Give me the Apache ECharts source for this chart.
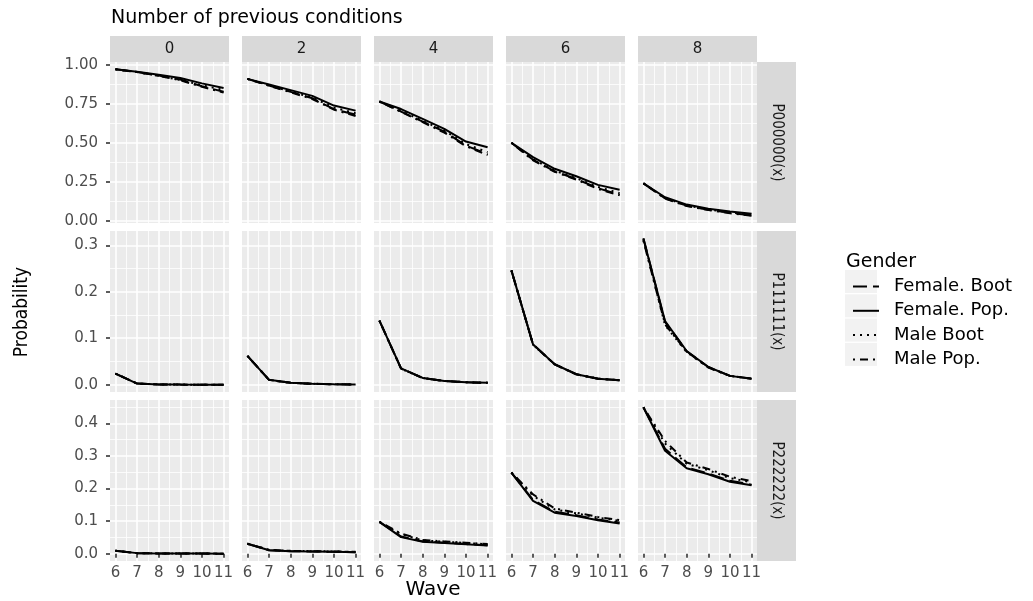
<!DOCTYPE html>
<html><head><meta charset="utf-8">
<script src="https://cdn.jsdelivr.net/npm/echarts@6/dist/echarts.min.js"></script>
<style>html,body{margin:0;padding:0;background:#fff}#chart{width:1033px;height:601px}</style>
</head><body><div id="chart"></div>
<script>
// ---------- categories & ticks ----------
const waves = [6, 7, 8, 9, 10, 11];
const waveTicks = [6, 7, 8, 9, 10, 11];
const waveMinorTicks = [6.5, 7.5, 8.5, 9.5, 10.5];
const conditionLabels = ['0', '2', '4', '6', '8'];
const functionLabels = ['P000000(x)', 'P111111(x)', 'P222222(x)'];
const genderNames = ['Female. Boot', 'Female. Pop.', 'Male Boot', 'Male Pop.'];
const yTicksP0 = [0, 0.25, 0.5, 0.75, 1.0];
const yMinorP0 = [0.125, 0.375, 0.625, 0.875];
const yTicksP1 = [0, 0.1, 0.2, 0.3];
const yMinorP1 = [0.05, 0.15, 0.25];
const yTicksP2 = [0, 0.1, 0.2, 0.3, 0.4];
const yMinorP2 = [0.05, 0.15, 0.25, 0.35, 0.45];

// ---------- values: one row per number of previous conditions (0,2,4,6,8), columns = waves 6..11 ----------
// P000000(x)
const p0FemaleBoot = [
  [0.970, 0.953, 0.930, 0.905, 0.862, 0.826],
  [0.909, 0.866, 0.826, 0.785, 0.715, 0.680],
  [0.764, 0.700, 0.636, 0.572, 0.482, 0.428],
  [0.500, 0.392, 0.318, 0.268, 0.210, 0.168],
  [0.241, 0.145, 0.098, 0.072, 0.052, 0.036]
];
const p0FemalePop = [
  [0.970, 0.955, 0.935, 0.915, 0.880, 0.850],
  [0.909, 0.873, 0.837, 0.800, 0.738, 0.706],
  [0.764, 0.716, 0.653, 0.589, 0.508, 0.472],
  [0.500, 0.408, 0.334, 0.286, 0.231, 0.200],
  [0.241, 0.152, 0.105, 0.078, 0.061, 0.046]
];
const p0MaleBoot = [
  [0.970, 0.952, 0.928, 0.902, 0.868, 0.838],
  [0.909, 0.868, 0.828, 0.790, 0.725, 0.690],
  [0.764, 0.705, 0.640, 0.578, 0.492, 0.440],
  [0.500, 0.395, 0.322, 0.274, 0.218, 0.178],
  [0.241, 0.148, 0.100, 0.074, 0.055, 0.040]
];
const p0MalePop = [
  [0.970, 0.953, 0.928, 0.900, 0.858, 0.822],
  [0.909, 0.865, 0.823, 0.780, 0.712, 0.672],
  [0.764, 0.698, 0.632, 0.565, 0.478, 0.422],
  [0.500, 0.388, 0.315, 0.265, 0.205, 0.165],
  [0.241, 0.143, 0.096, 0.070, 0.050, 0.034]
];
// P111111(x)
const p1FemaleBoot = [
  [0.024, 0.0025, 0.0006, 0.0002, 0.0001, 0.00005],
  [0.062, 0.0105, 0.0040, 0.0020, 0.0010, 0.0006],
  [0.138, 0.0350, 0.0146, 0.0080, 0.0054, 0.0040],
  [0.246, 0.0868, 0.0440, 0.0225, 0.0130, 0.0096],
  [0.315, 0.1350, 0.0720, 0.0380, 0.0190, 0.0130]
];
const p1FemalePop = [
  [0.024, 0.0025, 0.0006, 0.0002, 0.0001, 0.00005],
  [0.062, 0.0105, 0.0040, 0.0020, 0.0010, 0.0006],
  [0.138, 0.0350, 0.0146, 0.0080, 0.0054, 0.0040],
  [0.246, 0.0868, 0.0440, 0.0225, 0.0130, 0.0096],
  [0.314, 0.1370, 0.0725, 0.0380, 0.0190, 0.0130]
];
const p1MaleBoot = [
  [0.024, 0.0025, 0.0006, 0.0002, 0.0001, 0.00005],
  [0.062, 0.0105, 0.0040, 0.0020, 0.0010, 0.0006],
  [0.138, 0.0345, 0.0145, 0.0080, 0.0054, 0.0040],
  [0.246, 0.0860, 0.0435, 0.0222, 0.0130, 0.0096],
  [0.312, 0.1280, 0.0700, 0.0370, 0.0190, 0.0130]
];
const p1MalePop = [
  [0.024, 0.0025, 0.0006, 0.0002, 0.0001, 0.00005],
  [0.062, 0.0105, 0.0040, 0.0020, 0.0010, 0.0006],
  [0.138, 0.0345, 0.0145, 0.0080, 0.0054, 0.0040],
  [0.246, 0.0862, 0.0437, 0.0223, 0.0130, 0.0096],
  [0.310, 0.1300, 0.0710, 0.0370, 0.0190, 0.0130]
];
// P222222(x)
const p2FemaleBoot = [
  [0.009, 0.002, 0.0010, 0.0008, 0.0005, 0.0003],
  [0.031, 0.011, 0.0080, 0.0070, 0.0060, 0.0050],
  [0.098, 0.053, 0.0380, 0.0340, 0.0300, 0.0260],
  [0.249, 0.165, 0.129, 0.118, 0.105, 0.096],
  [0.449, 0.322, 0.265, 0.246, 0.224, 0.212]
];
const p2FemalePop = [
  [0.009, 0.002, 0.0010, 0.0008, 0.0005, 0.0003],
  [0.031, 0.011, 0.0080, 0.0070, 0.0060, 0.0050],
  [0.098, 0.051, 0.0370, 0.0330, 0.0290, 0.0250],
  [0.249, 0.162, 0.126, 0.116, 0.103, 0.093],
  [0.449, 0.316, 0.262, 0.244, 0.221, 0.210]
];
const p2MaleBoot = [
  [0.009, 0.002, 0.0011, 0.0009, 0.0006, 0.0004],
  [0.031, 0.012, 0.0090, 0.0080, 0.0070, 0.0060],
  [0.098, 0.060, 0.0410, 0.0370, 0.0330, 0.0290],
  [0.249, 0.178, 0.136, 0.124, 0.111, 0.101],
  [0.449, 0.338, 0.276, 0.256, 0.232, 0.219]
];
const p2MalePop = [
  [0.009, 0.002, 0.0011, 0.0009, 0.0006, 0.0004],
  [0.031, 0.012, 0.0090, 0.0080, 0.0070, 0.0060],
  [0.098, 0.062, 0.0420, 0.0380, 0.0340, 0.0300],
  [0.249, 0.182, 0.139, 0.126, 0.113, 0.103],
  [0.449, 0.346, 0.280, 0.260, 0.236, 0.223]
];

// ---------- assemble ----------
const rowValues = [
  [p0FemaleBoot, p0FemalePop, p0MaleBoot, p0MalePop],
  [p1FemaleBoot, p1FemalePop, p1MaleBoot, p1MalePop],
  [p2FemaleBoot, p2FemalePop, p2MaleBoot, p2MalePop]
];
const rowTicks = [yTicksP0, yTicksP1, yTicksP2];
const rowMinor = [yMinorP0, yMinorP1, yMinorP2];
const rowDigits = [2, 1, 1];

const lineDashes = [[14, 6], null, [2, 5], [2, 5, 8, 5]];

const panelLeft = [110, 242, 374, 506, 638];
const panelTop = [62, 231, 400];
const panelW = 119, panelH = 161;

const sansFont = '"DejaVu Sans", "Liberation Sans", sans-serif';
const narrowFont = '"Liberation Sans Narrow", "DejaVu Sans Condensed", "Liberation Sans", sans-serif';

function expand(lo, hi) { const r = hi - lo; return [lo - 0.05 * r, hi + 0.05 * r]; }
const xRange = expand(Math.min(...waves), Math.max(...waves));

const grids = [], xAxes = [], yAxes = [], series = [];
for (let r = 0; r < 3; r++) {
  let lo = Infinity, hi = -Infinity;
  rowValues[r].forEach(s => s.forEach(p => p.forEach(v => { lo = Math.min(lo, v); hi = Math.max(hi, v); })));
  const yRange = expand(lo, hi);
  for (let c = 0; c < 5; c++) {
    const k = r * 5 + c;
    grids.push({ left: panelLeft[c], top: panelTop[r], width: panelW, height: panelH,
      show: true, backgroundColor: '#EBEBEB', borderWidth: 0, containLabel: false });
    const bottomRow = r === 2, leftCol = c === 0;
    xAxes.push({
      type: 'value', gridIndex: k, position: 'bottom', min: xRange[0], max: xRange[1],
      minInterval: 1, maxInterval: 1,
      axisLine: { show: false },
      axisTick: { show: bottomRow, length: 4, customValues: waveTicks, lineStyle: { color: '#333333', width: 1.6 } },
      axisLabel: { show: bottomRow, customValues: waveTicks, interval: 0,
        margin: 5, color: '#4D4D4D', fontFamily: sansFont, fontSize: 15 },
      splitLine: { show: true, lineStyle: { color: '#FFFFFF', width: 1.6 } }
    });
    xAxes.push({
      type: 'value', gridIndex: k, position: 'top', min: xRange[0], max: xRange[1],
      minInterval: 0.5, maxInterval: 0.5,
      axisLine: { show: false },
      axisTick: { show: false, customValues: waveMinorTicks },
      axisLabel: { show: false, customValues: waveMinorTicks },
      splitLine: { show: true, lineStyle: { color: '#FFFFFF', width: 0.8 } }
    });
    const digits = rowDigits[r];
    yAxes.push({
      type: 'value', gridIndex: k, position: 'left', min: yRange[0], max: yRange[1],
      axisLine: { show: false },
      axisTick: { show: leftCol, length: 4, customValues: rowTicks[r], lineStyle: { color: '#333333', width: 1.6 } },
      axisLabel: { show: leftCol, customValues: rowTicks[r],
        margin: 12, color: '#4D4D4D', fontFamily: sansFont, fontSize: 15,
        formatter: v => Number(v).toFixed(digits) },
      splitLine: { show: true, lineStyle: { color: '#FFFFFF', width: 1.6 } }
    });
    yAxes.push({
      type: 'value', gridIndex: k, position: 'right', min: yRange[0], max: yRange[1],
      axisLine: { show: false },
      axisTick: { show: false, customValues: rowMinor[r] },
      axisLabel: { show: false, customValues: rowMinor[r] },
      splitLine: { show: true, lineStyle: { color: '#FFFFFF', width: 0.8 } }
    });
    for (let g = 0; g < 4; g++) {
      const vals = rowValues[r][g][c];
      series.push({
        type: 'line', name: genderNames[g], xAxisIndex: 2 * k, yAxisIndex: 2 * k,
        data: waves.map((w, i) => [w, vals[i]]),
        symbol: 'none', silent: true, animation: false, z: 2 + g,
        lineStyle: { color: '#000000', width: 2, type: lineDashes[g] || 'solid', cap: 'butt' },
        itemStyle: { color: '#000000' }
      });
    }
  }
}

// ---------- strips, titles, legend backgrounds ----------
const graphics = [];
graphics.push({ type: 'text', x: 111, y: 18, style: { text: 'Number of previous conditions', font: '19px ' + sansFont,
  fill: '#000000', align: 'left', verticalAlign: 'middle' } });
conditionLabels.forEach((lab, c) => {
  graphics.push({ type: 'rect', shape: { x: panelLeft[c], y: 36, width: panelW, height: 26 }, style: { fill: '#D9D9D9' }, z: 0 });
  graphics.push({ type: 'text', x: panelLeft[c] + panelW / 2, y: 49, style: { text: lab, font: '15px ' + sansFont,
    fill: '#1A1A1A', align: 'center', verticalAlign: 'middle' }, z: 1 });
});
functionLabels.forEach((lab, r) => {
  graphics.push({ type: 'rect', shape: { x: 757, y: panelTop[r], width: 39, height: panelH }, style: { fill: '#D9D9D9' }, z: 0 });
  graphics.push({ type: 'text', x: 776.5, y: panelTop[r] + panelH / 2, rotation: -Math.PI / 2,
    style: { text: lab, font: '15px ' + narrowFont, fill: '#1A1A1A', align: 'center', verticalAlign: 'middle' }, z: 1 });
});
graphics.push({ type: 'text', x: 22, y: 312, rotation: Math.PI / 2,
  style: { text: 'Probability', font: '19px ' + narrowFont, fill: '#000000', align: 'center', verticalAlign: 'middle' } });
graphics.push({ type: 'text', x: 433, y: 590, style: { text: 'Wave', font: '20px ' + sansFont,
  fill: '#000000', align: 'center', verticalAlign: 'middle' } });
graphics.push({ type: 'text', x: 846, y: 262, style: { text: 'Gender', font: '19px ' + sansFont,
  fill: '#000000', align: 'left', verticalAlign: 'middle' } });
genderNames.forEach((n, i) => {
  graphics.push({ type: 'rect', shape: { x: 845, y: 270 + i * 24.3, width: 32, height: 23 }, style: { fill: '#F2F2F2' }, z: 0 });
});

const chart = echarts.init(document.getElementById('chart'), null, { renderer: 'canvas' });
chart.setOption({
  backgroundColor: '#FFFFFF',
  animation: false,
  grid: grids, xAxis: xAxes, yAxis: yAxes, series: series,
  legend: {
    data: genderNames, orient: 'vertical', left: 847, top: 271.5, itemWidth: 26, itemHeight: 20, itemGap: 4.3,
    selectedMode: false, itemStyle: { opacity: 0 },
    textStyle: { fontFamily: sansFont, fontSize: 18, color: '#000000', lineHeight: 20, padding: [0, 0, 0, 10] }
  },
  graphic: { elements: graphics }
});
</script></body></html>
